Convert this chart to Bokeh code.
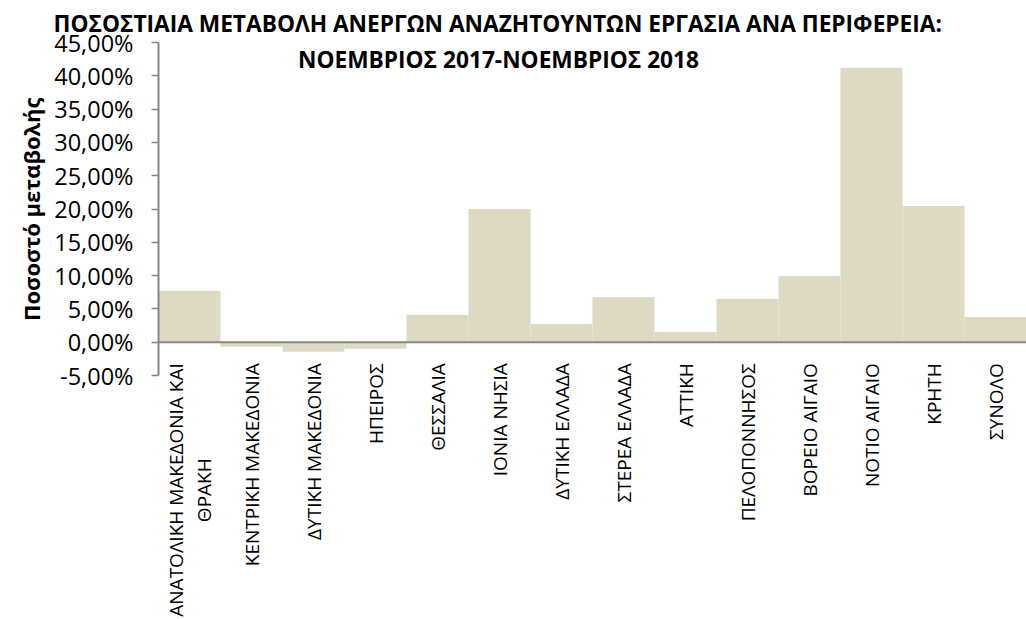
from bokeh.plotting import figure
from bokeh.models import (FactorRange, Range1d, FixedTicker, Span, Label,
                          LabelSet, ColumnDataSource, Title)
from bokeh.core.properties import value
from bokeh.embed import file_html
from bokeh.resources import INLINE

# ---- data -------------------------------------------------------------
regions = ["ΑΝΑΤΟΛΙΚΗ ΜΑΚΕΔΟΝΙΑ ΚΑΙ ΘΡΑΚΗ", "ΚΕΝΤΡΙΚΗ ΜΑΚΕΔΟΝΙΑ",
           "ΔΥΤΙΚΗ ΜΑΚΕΔΟΝΙΑ", "ΗΠΕΙΡΟΣ", "ΘΕΣΣΑΛΙΑ", "ΙΟΝΙΑ ΝΗΣΙΑ",
           "ΔΥΤΙΚΗ ΕΛΛΑΔΑ", "ΣΤΕΡΕΑ ΕΛΛΑΔΑ", "ΑΤΤΙΚΗ", "ΠΕΛΟΠΟΝΝΗΣΟΣ",
           "ΒΟΡΕΙΟ ΑΙΓΑΙΟ", "ΝΟΤΙΟ ΑΙΓΑΙΟ", "ΚΡΗΤΗ", "ΣΥΝΟΛΟ"]
region_labels = ["ΑΝΑΤΟΛΙΚΗ ΜΑΚΕΔΟΝΙΑ ΚΑΙ\nΘΡΑΚΗ", "ΚΕΝΤΡΙΚΗ ΜΑΚΕΔΟΝΙΑ",
                 "ΔΥΤΙΚΗ ΜΑΚΕΔΟΝΙΑ", "ΗΠΕΙΡΟΣ", "ΘΕΣΣΑΛΙΑ", "ΙΟΝΙΑ ΝΗΣΙΑ",
                 "ΔΥΤΙΚΗ ΕΛΛΑΔΑ", "ΣΤΕΡΕΑ ΕΛΛΑΔΑ", "ΑΤΤΙΚΗ", "ΠΕΛΟΠΟΝΝΗΣΟΣ",
                 "ΒΟΡΕΙΟ ΑΙΓΑΙΟ", "ΝΟΤΙΟ ΑΙΓΑΙΟ", "ΚΡΗΤΗ", "ΣΥΝΟΛΟ"]
change_pct = [7.7, -0.7, -1.45, -1.0, 4.1, 20.0, 2.75, 6.75, 1.55, 6.5,
              9.95, 41.2, 20.45, 3.8]
y_ticks = [-5, 0, 5, 10, 15, 20, 25, 30, 35, 40, 45]
y_tick_labels = ["-5,00%", "0,00%", "5,00%", "10,00%", "15,00%", "20,00%",
                 "25,00%", "30,00%", "35,00%", "40,00%", "45,00%"]
title_lines = ["ΠΟΣΟΣΤΙΑΙΑ ΜΕΤΑΒΟΛΗ ΑΝΕΡΓΩΝ ΑΝΑΖΗΤΟΥΝΤΩΝ ΕΡΓΑΣΙΑ ΑΝΑ ΠΕΡΙΦΕΡΕΙΑ:",
               "ΝΟΕΜΒΡΙΟΣ 2017-ΝΟΕΜΒΡΙΟΣ 2018"]
y_title = "Ποσοστό μεταβολής"

FONT = "Open Sans"
BAR = "#DDD9C3"
AXIS = "#868686"

# ---- layout (pixels) ---------------------------------------------------
W, H = 1026, 617
TOP, LEFT = 42, 158
FRAME_H = H - TOP            # frame runs to the bottom of the canvas
AXIS_PX = 333                # pixels spanned by the -5 .. 45 axis
Y_MIN, Y_MAX = -5, 45
y_start = Y_MAX - (Y_MAX - Y_MIN) * FRAME_H / AXIS_PX

p = figure(width=W, height=H, output_backend="svg", toolbar_location=None,
           x_range=FactorRange(factors=regions, range_padding=0),
           y_range=Range1d(y_start, Y_MAX), x_axis_location=None,
           min_border_left=LEFT, min_border_right=0,
           min_border_top=TOP, min_border_bottom=0)
p.outline_line_color = None
p.xgrid.visible = False
p.ygrid.visible = False
p.background_fill_color = "white"
p.border_fill_color = "white"

# title: first line above the frame, second line inside it
p.title.text = title_lines[0]
p.title.align = "left"
p.title.offset = -105
p.title.standoff = 8
p.title.text_font = FONT
p.title.text_font_style = "bold"
p.title.text_font_size = "22.7px"
p.title.text_color = "#000000"
p.add_layout(Label(x=340, y=FRAME_H - 1, x_units="screen", y_units="screen",
                   text=title_lines[1], text_align="center", text_baseline="top",
                   text_font=FONT, text_font_style="bold",
                   text_font_size="22.7px", text_color="#000000"))

p.vbar(x=regions, top=change_pct, bottom=0, width=1.0,
       fill_color=BAR, line_color=None)

p.add_layout(Span(location=0, dimension="width", line_color=AXIS, line_width=2))

# category labels hanging below the zero line
first_lines = region_labels[0].split("\n")
lab_text = [first_lines[0]] + region_labels[1:]
lab_dx = [-13] + [1] * (len(regions) - 1)
src = ColumnDataSource(dict(x=regions, y=[0] * len(regions), text=lab_text,
                            dx=lab_dx))
p.add_layout(LabelSet(x="x", y="y", text="text", source=src, x_offset="dx",
                      y_offset=-21, angle=90, angle_units="deg",
                      text_align="right", text_baseline="middle",
                      text_font=value(FONT), text_font_size=value("19px"),
                      text_color="#000000"))
src2 = ColumnDataSource(dict(x=regions[:1], y=[0], text=first_lines[1:2]))
p.add_layout(LabelSet(x="x", y="y", text="text", source=src2, x_offset=15,
                      y_offset=-(21 + 127), angle=90, angle_units="deg",
                      text_align="center", text_baseline="middle",
                      text_font=value(FONT), text_font_size=value("19px"),
                      text_color="#000000"))

ya = p.yaxis[0]
ya.ticker = FixedTicker(ticks=y_ticks)
ya.bounds = (Y_MIN, Y_MAX)
ya.major_label_overrides = {t: s for t, s in zip(y_ticks, y_tick_labels)}
ya.minor_tick_line_color = None
ya.major_tick_in = 0
ya.major_tick_out = 7
ya.major_tick_line_color = AXIS
ya.major_tick_line_width = 1.5
ya.axis_line_color = AXIS
ya.axis_line_width = 2
ya.major_label_standoff = 18
ya.major_label_text_font = FONT
ya.major_label_text_font_size = "23.5px"
ya.major_label_text_color = "#000000"

p.add_layout(Title(text=y_title, align="right", offset=55, standoff=12,
                   text_font=FONT, text_font_style="bold",
                   text_font_size="22px", text_color="#000000"), "left")

open("out.html", "w").write(file_html(p, INLINE))
